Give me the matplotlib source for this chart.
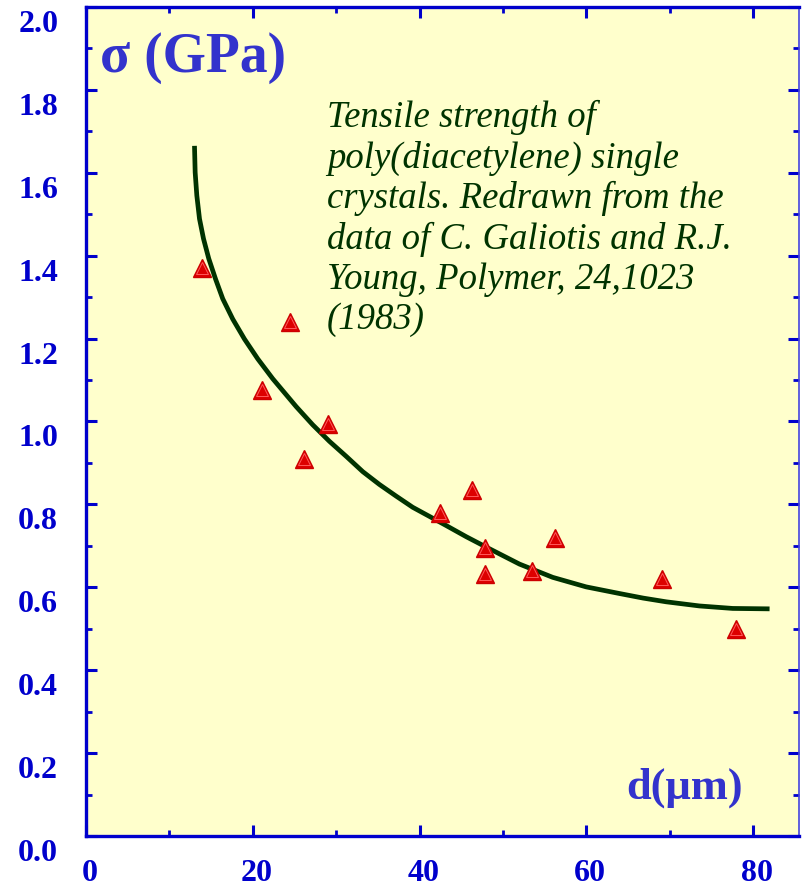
import numpy as np
import matplotlib
matplotlib.use("Agg")
import matplotlib.pyplot as plt
from matplotlib.ticker import MultipleLocator, FormatStrFormatter
from matplotlib.transforms import ScaledTranslation

# measured points (diameter in um, strength in GPa)
diameter = [13.9, 21.1, 24.5, 26.1, 29.0, 42.5, 46.3, 47.9, 47.8, 53.5, 56.2, 69.1, 78.0]
strength = [1.37, 1.075, 1.24, 0.91, 0.995, 0.78, 0.835, 0.695, 0.633, 0.64, 0.72, 0.62, 0.50]

# fitted curve
curve_d = [13.01, 13.09, 13.29, 13.61, 14.09, 14.72, 15.53, 16.40, 17.60, 19.00,
           20.60, 22.40, 25.20, 27.19, 29.20, 31.20, 33.19, 35.19, 37.19, 39.18,
           41.19, 43.19, 45.6, 47.99, 51.98, 55.97, 59.98, 63.97, 66.8, 69.57,
           73.56, 77.55, 81.97]
curve_s = [1.665, 1.601, 1.545, 1.489, 1.441, 1.393, 1.344, 1.296, 1.247, 1.199,
           1.151, 1.103, 1.036, 0.992, 0.952, 0.916, 0.879, 0.848, 0.820, 0.793,
           0.771, 0.749, 0.722, 0.697, 0.656, 0.624, 0.601, 0.585, 0.574, 0.565,
           0.555, 0.549, 0.548]

blue = "#0000cc"
label_blue = "#3333cc"
green = "#003300"

fig = plt.figure(figsize=(8.08, 8.87), dpi=100)
ax = fig.add_axes([86 / 808, 50 / 887, 713 / 808, 829 / 887])
ax.set_facecolor("#ffffcc")

ax.plot(curve_d, curve_s, color=green, lw=3.4, solid_capstyle="butt",
        solid_joinstyle="round", zorder=2)
ax.plot(diameter, strength, ls="none", marker="^", ms=13.5, mfc="#dd0000",
        mec="#cc0000", mew=1.0, zorder=3)
ax.plot(diameter, strength, ls="none", marker="^", ms=8, mfc="none",
        mec="#ff5a5a", mew=0.7, zorder=4)

ax.set_xlim(0, 85.5)
ax.set_ylim(0, 2.0)
ax.xaxis.set_major_locator(MultipleLocator(20))
ax.xaxis.set_minor_locator(MultipleLocator(10))
ax.yaxis.set_major_locator(MultipleLocator(0.2))
ax.yaxis.set_minor_locator(MultipleLocator(0.1))
ax.yaxis.set_major_formatter(FormatStrFormatter("%.1f"))

ax.tick_params(which="both", direction="in", top=True, right=True, colors=blue)
ax.tick_params(which="major", length=8, width=2.2)
ax.tick_params(which="minor", length=4, width=2.0)
ax.tick_params(axis="y", which="major", pad=20)
ax.tick_params(axis="x", which="major", pad=16)

for lab in ax.get_xticklabels() + ax.get_yticklabels():
    lab.set_fontfamily("Liberation Serif")
    lab.set_fontweight("bold")
    lab.set_fontsize(23)
    lab.set_color(blue)
for lab in ax.get_yticklabels():
    lab.set_transform(lab.get_transform() + ScaledTranslation(0, -0.13, fig.dpi_scale_trans))
for lab in ax.get_xticklabels():
    lab.set_transform(lab.get_transform() + ScaledTranslation(0.04, 0, fig.dpi_scale_trans))

for side in ["left", "bottom", "top"]:
    ax.spines[side].set_color(blue)
    ax.spines[side].set_linewidth(2.4)
ax.spines["right"].set_color("#4444dd")
ax.spines["right"].set_linewidth(1.2)

ax.text(0.0196, 0.923, "\u03c3 (GPa)", transform=ax.transAxes, fontsize=40,
        fontweight="bold", family="Liberation Serif", color=label_blue, va="baseline")
ax.text(0.758, 0.047, "d(\u03bcm)", transform=ax.transAxes, fontsize=32,
        fontweight="bold", family="Liberation Serif", color=label_blue, va="baseline")

note = ("Tensile strength of\n"
        "poly(diacetylene) single\n"
        "crystals. Redrawn from the\n"
        "data of C. Galiotis and R.J.\n"
        "Young, Polymer, 24,1023\n"
        "(1983)")
ax.text(0.338, 0.889, note, transform=ax.transAxes, fontsize=26.5, style="italic",
        family="Liberation Serif", color=green, va="top", ha="left", linespacing=1.2)

fig.savefig("out.png", dpi=100)
